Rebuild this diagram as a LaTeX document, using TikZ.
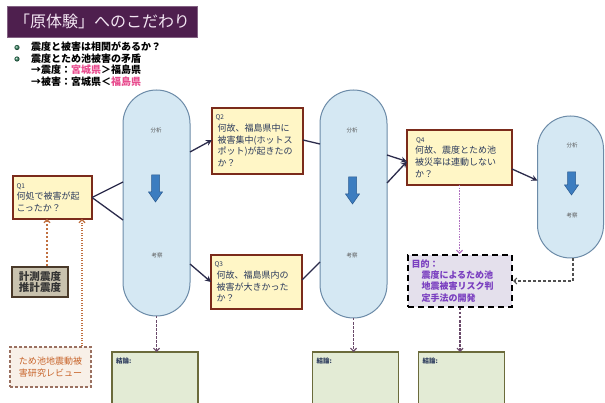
\documentclass[tikz,border=0pt]{standalone}
\usepackage{fontspec}
\newfontfamily\jp{Noto Sans CJK JP}
\usetikzlibrary{arrows.meta,calc}
\definecolor{titlebg}{HTML}{4E1F4E}
\definecolor{titletx}{HTML}{F3E6F3}
\definecolor{pillfill}{HTML}{D5E8F3}
\definecolor{pillline}{HTML}{6C8BA8}
\definecolor{qfill}{HTML}{FFF6C6}
\definecolor{qline}{HTML}{7B2B1B}
\definecolor{qtext}{HTML}{2B3A5C}
\definecolor{connc}{HTML}{2B2B4B}
\definecolor{kfill}{HTML}{E3EBD5}
\definecolor{kline}{HTML}{6B6B3B}
\definecolor{kconc}{HTML}{6A4A6A}
\definecolor{pinkt}{HTML}{E84C8E}
\definecolor{bgreen}{HTML}{2E7D5A}
\definecolor{arrfill}{HTML}{3C7DC0}
\definecolor{arrline}{HTML}{2A5A90}
\definecolor{mkfill}{HTML}{E4E0EC}
\definecolor{mktext}{HTML}{7A3FC0}
\definecolor{tmfill}{HTML}{F8F0E8}
\definecolor{tmline}{HTML}{9A7060}
\definecolor{tmtext}{HTML}{C8642A}
\definecolor{ksfill}{HTML}{C9C2AE}
\definecolor{ksline}{HTML}{4A3A2A}
\definecolor{bconc}{HTML}{C07040}
\definecolor{mconc}{HTML}{B070C0}
\definecolor{gconc}{HTML}{505050}
\newcommand\qlabfont{\fontsize{6.5}{8}\selectfont}
\tikzset{
  pill/.style={draw=pillline, line width=1pt, fill=pillfill, outer sep=0pt},
  pilltext/.style={font=\jp\fontsize{5.5}{6}\selectfont, text=black!65, inner sep=0pt},
  qbox/.style={draw=qline, line width=1.5pt, fill=qfill, text=qtext, font=\jp\fontsize{9}{11.7}\selectfont, align=left, inner xsep=3pt, inner ysep=2pt, outer sep=0pt},
  kbox/.style={draw=kline, line width=1.5pt, fill=kfill, outer sep=0pt},
  klabel/.style={font=\jp\bfseries\fontsize{6.5}{7}\selectfont, text=qtext, inner sep=0pt},
  conn/.style={draw=connc, line width=1.3pt},
  connarr/.style={conn, -{Stealth[length=6pt,width=6pt]}},
  kconn/.style={draw=kconc, line width=1.2pt, dash pattern=on 2.5pt off 1.5pt, -{Straight Barb[length=3pt,width=6pt]}},
  mconn/.style={draw=mconc, line width=1.2pt, dash pattern=on 1.5pt off 1.2pt, -{Straight Barb[length=3pt,width=6pt]}},
  gconn/.style={draw=gconc, line width=1.1pt, dash pattern=on 3pt off 2pt, -{Straight Barb[length=3pt,width=6pt]}},
  bconn/.style={draw=bconc, line width=1.1pt, dash pattern=on 2.5pt off 1.5pt, -{Straight Barb[length=3pt,width=6pt]}},
  tconn/.style={draw=bconc, line width=1.1pt, dash pattern=on 1.3pt off 1.2pt, -{Straight Barb[length=3pt,width=6pt]}},
  bluearrow/.style={fill=arrfill, draw=arrline, line width=0.5pt},
}
\newcommand\bluearr[3]{%
  \filldraw[bluearrow] ({#1-4},#2) -- ({#1+4},#2) -- ({#1+4},{#2+#3-10}) -- ({#1+7},{#2+#3-10}) -- (#1,{#2+#3}) -- ({#1-7},{#2+#3-10}) -- ({#1-4},{#2+#3-10}) -- cycle;}
\begin{document}
\begin{tikzpicture}[x=1pt,y=-1pt]
\path[use as bounding box, fill=white] (0,0) rectangle (605,403);

% title
\node[fill=titlebg, draw=titlebg!70, line width=0.8pt, minimum width=190pt, minimum height=31pt, text=titletx, font=\jp\fontsize{16}{18}\selectfont, inner sep=0pt] (title) at (102,21.5) {「原体験」へのこだわり};

% bullets
\shade[ball color=bgreen] (17,47.5) circle (2.6);
\shade[ball color=bgreen] (17,59) circle (2.6);
\node[anchor=north west, inner sep=0pt, align=left, font=\jp\bfseries\fontsize{10}{11.7}\selectfont] (bul) at (31,41.5) {震度と被害は相関があるか？\\震度とため池被害の矛盾\\→震度：{\color{pinkt}宮城県}＞福島県\\→被害：宮城県＜{\color{pinkt}福島県}};

% pills
\node[pill, rounded corners=33.5pt, minimum width=67pt, minimum height=226pt] (p1) at (156.5,203) {};
\node[pill, rounded corners=33.5pt, minimum width=67pt, minimum height=228pt] (p2) at (353.5,204) {};
\node[pill, rounded corners=33pt, minimum width=66pt, minimum height=142pt] (p3) at (570.5,187) {};
\node[pilltext] (p1a) at (156,130) {分析};
\node[pilltext] (p1b) at (157,255) {考察};
\node[pilltext] (p2a) at (352,130) {分析};
\node[pilltext] (p2b) at (352,255) {考察};
\node[pilltext] (p3a) at (572,145) {分析};
\node[pilltext] (p3b) at (572,215) {考察};
\bluearr{155.5}{175}{27}
\bluearr{352.5}{177}{27}
\bluearr{571.5}{172}{23}

% question boxes
\node[qbox, minimum width=79pt, minimum height=43pt, text width=72pt] (q1) at (52.5,197.5) {{\qlabfont Q1}\\何処で被害が起\\こったか？};
\node[qbox, minimum width=91pt, minimum height=66pt, text width=84pt] (q2) at (257.5,141) {{\qlabfont Q2}\\\hspace*{2pt}何故、福島県中に\\\hspace*{2pt}被害集中(ホットス\\\hspace*{2pt}ポット)が起きたの\\\hspace*{2pt}か？};
\node[qbox, minimum width=91pt, minimum height=54pt, text width=84pt] (q3) at (256.5,282) {{\qlabfont Q3}\\\hspace*{2pt}何故、福島県内の\\\hspace*{2pt}被害が大きかった\\\hspace*{2pt}か？};
\node[qbox, minimum width=105pt, minimum height=55pt, text width=97pt] (q4) at (459.5,157.5) {{\qlabfont\hspace*{5pt}Q4}\\\hspace*{4pt}何故、震度とため池\\\hspace*{4pt}被災率は連動しない\\\hspace*{4pt}か？};

% side boxes
\node[draw=ksline, line width=1.5pt, fill=ksfill, minimum width=56pt, minimum height=30pt, inner sep=0pt, align=center, text=black!80, font=\jp\bfseries\fontsize{10.5}{11.5}\selectfont] (ks) at (40,282) {計測震度\\推計震度};
\node[draw=tmline, line width=1.2pt, dash pattern=on 3pt off 2pt, fill=tmfill, minimum width=81pt, minimum height=40pt, inner sep=0pt, align=left, text=tmtext, font=\jp\fontsize{9}{11.5}\selectfont] (tm) at (50.5,367) {ため池地震動被\\害研究レビュー};
\node[draw=black, line width=2pt, dash pattern=on 6pt off 4pt, fill=mkfill, minimum width=104pt, minimum height=52pt, inner xsep=3pt, inner ysep=1pt, text width=97pt, align=left, text=mktext, font=\jp\bfseries\fontsize{9}{11.2}\selectfont] (mk) at (460,281) {目的：\\\hspace*{10pt}震度によるため池\\\hspace*{10pt}地震被害リスク判\\\hspace*{10pt}定手法の開発};

% conclusion boxes
\node[kbox, minimum width=86pt, minimum height=54pt, anchor=north] (k1) at (155,352) {};
\node[kbox, minimum width=86pt, minimum height=54pt, anchor=north] (k2) at (355.5,352) {};
\node[kbox, minimum width=86pt, minimum height=54pt, anchor=north] (k3) at (461.5,352) {};
\node[klabel, anchor=north west] (k1l) at ($(k1.north west)+(4,6)$) {結論:};
\node[klabel, anchor=north west] (k2l) at ($(k2.north west)+(4,6)$) {結論:};
\node[klabel, anchor=north west] (k3l) at ($(k3.north west)+(4,6)$) {結論:};

% connectors
\draw[conn] (q1.east) -- ($(p1.west)+(0,-21)$);
\draw[conn] (q1.east) -- ($(p1.west)+(0,17)$);
\draw[connarr] ($(p1.east)+(0,-51)$) -- ($(q2.west)+(0,-1)$);
\draw[connarr] ($(p1.east)+(0,61)$) -- (q3.west);
\draw[conn] ($(q2.east)+(0,-1)$) -- ($(p2.west)+(0,-60)$);
\draw[conn] ($(q3.east)+(0,-2)$) -- ($(p2.west)+(0,58)$);
\draw[connarr] ($(p2.east)+(0,-49)$) -- ($(q4.west)+(0,4)$);
\draw[connarr] ($(p2.east)+(0,-21)$) -- ($(q4.west)+(0,4)$);
\draw[connarr] ($(q4.east)+(0,11.5)$) -- ($(p3.west)+(0,-6.5)$);

\draw[kconn] (p1.south) -- (p1.south |- k1.north);
\draw[kconn] (p2.south) -- (p2.south |- k2.north);
\draw[kconn] (mk.south) -- (mk.south |- k3.north);
\draw[mconn] (q4.south) -- (q4.south |- mk.north);
\draw[gconn] ($(p3.south)+(2.5,0)$) |- (mk.east);

\coordinate (ksa) at ($(ks.north)+(7,0)$);
\coordinate (tma) at ($(tm.north)+(31.5,0)$);
\draw[bconn] (ksa) -- (ksa |- q1.south);
\draw[tconn] (tma) -- (tma |- q1.south);
\end{tikzpicture}
\end{document}
